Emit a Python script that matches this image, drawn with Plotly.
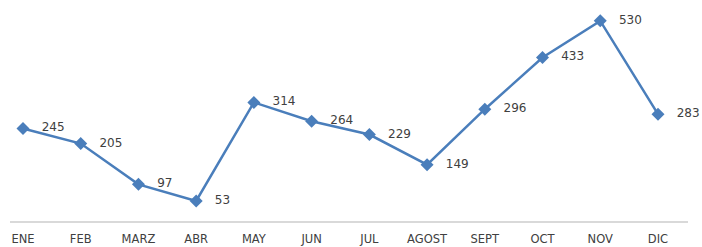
import plotly.graph_objects as go

months = ["ENE", "FEB", "MARZ", "ABR", "MAY", "JUN", "JUL", "AGOST", "SEPT", "OCT", "NOV", "DIC"]
values = [245, 205, 97, 53, 314, 264, 229, 149, 296, 433, 530, 283]

fig = go.Figure()
fig.add_trace(go.Scatter(
    x=list(range(len(months))), y=values,
    mode="lines+markers+text",
    line=dict(color="#4A7EBB", width=2.5),
    marker=dict(symbol="diamond", size=10, color="#4A7EBB"),
    text=["   " + str(v) for v in values],
    textposition="middle right",
    textfont=dict(family="DejaVu Sans", size=12, color="#404040"),
    cliponaxis=False,
))
fig.update_layout(
    width=702, height=247,
    margin=dict(l=10, r=14, t=5, b=26),
    paper_bgcolor="white", plot_bgcolor="white",
    showlegend=False,
    xaxis=dict(
        tickmode="array", tickvals=list(range(len(months))), ticktext=months,
        range=[-0.225, 11.52], showgrid=False, zeroline=False,
        showline=True, linecolor="#d9d9d9", linewidth=1.5,
        tickfont=dict(family="DejaVu Sans", size=11.5, color="#404040"),
        ticks="outside", ticklen=7, tickcolor="rgba(0,0,0,0)",
        automargin=False,
    ),
    yaxis=dict(range=[0, 572], visible=False, automargin=False),
)
fig.write_html(
    "out.html",
    config={"displayModeBar": False, "staticPlot": True},
    post_script="document.body.style.margin='0';document.body.style.overflow='hidden';",
)
